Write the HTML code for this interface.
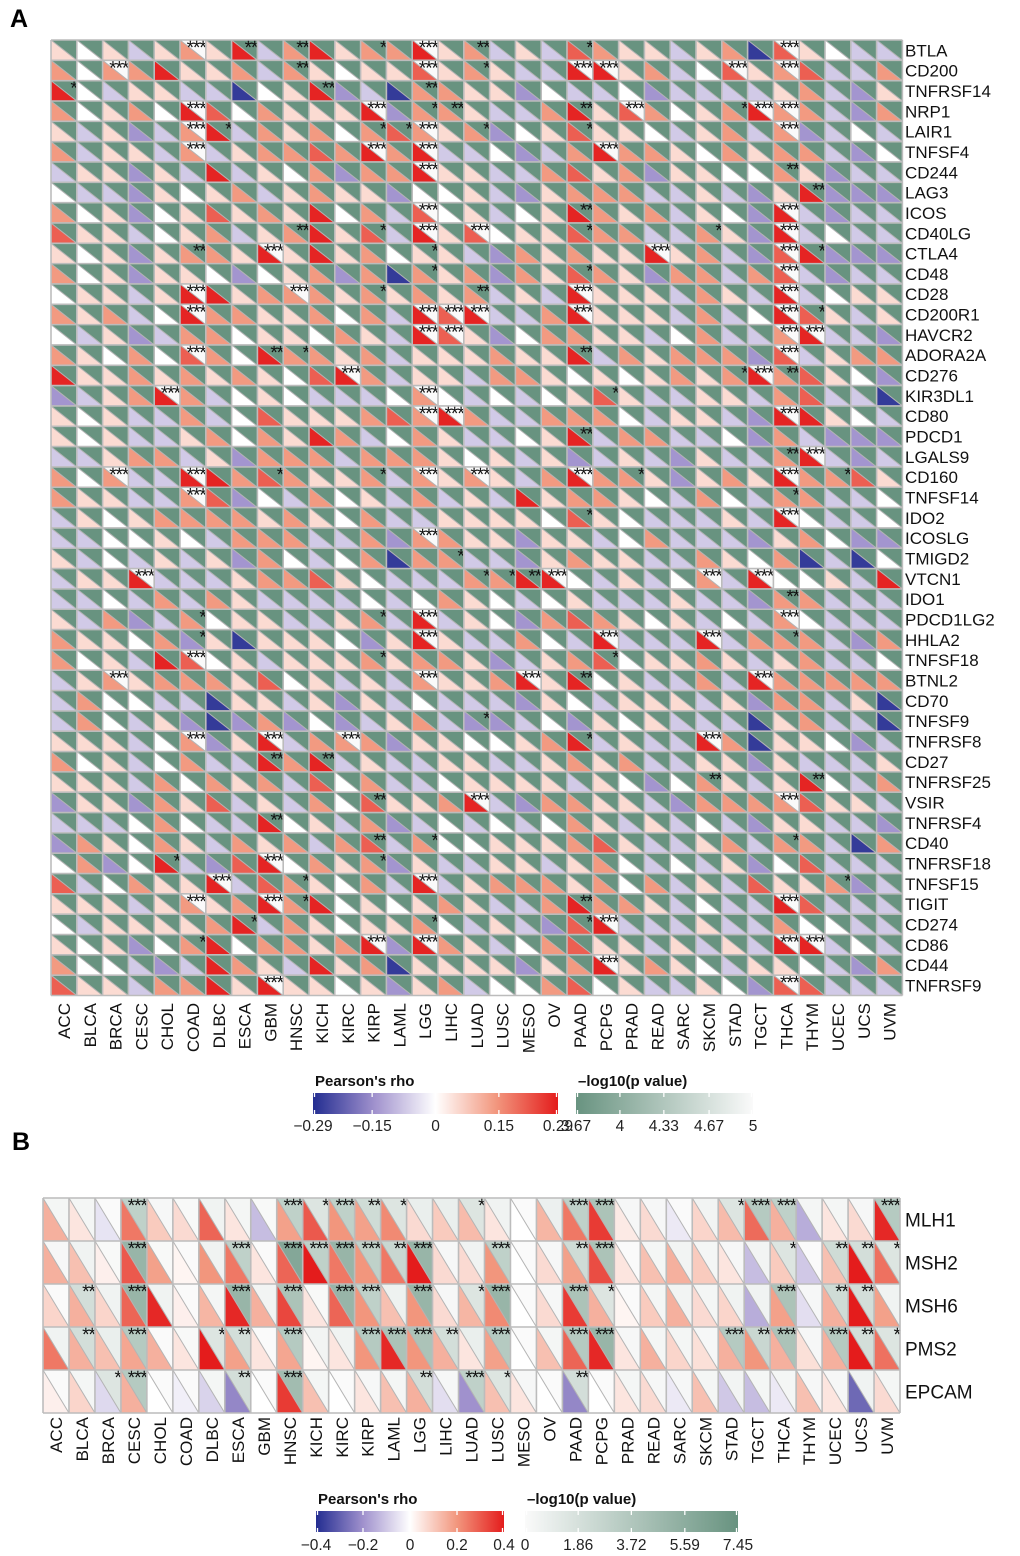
<!DOCTYPE html>
<html>
<head>
<meta charset="utf-8">
<style>
  html,body{margin:0;padding:0;background:#fff;}
  body{width:1020px;height:1556px;overflow:hidden;}
  svg{display:block;font-family:"Liberation Sans",Arial,sans-serif;}
</style>
</head>
<body>
<svg id="chart" width="1020" height="1556" viewBox="0 0 1020 1556" xmlns="http://www.w3.org/2000/svg">
  <defs>
    <linearGradient id="rhoGrad" x1="0" x2="1" y1="0" y2="0">
      <stop offset="0" stop-color="rgb(35,45,145)"/>
      <stop offset="0.25" stop-color="rgb(160,145,205)"/>
      <stop offset="0.5" stop-color="rgb(255,255,255)"/>
      <stop offset="0.75" stop-color="rgb(242,150,125)"/>
      <stop offset="1" stop-color="rgb(228,28,28)"/>
    </linearGradient>
    <linearGradient id="pGradA" x1="0" x2="1" y1="0" y2="0">
      <stop offset="0" stop-color="rgb(104,147,128)"/>
      <stop offset="1" stop-color="rgb(250,250,250)"/>
    </linearGradient>
    <linearGradient id="pGradB" x1="0" x2="1" y1="0" y2="0">
      <stop offset="0" stop-color="rgb(250,250,250)"/>
      <stop offset="1" stop-color="rgb(104,147,128)"/>
    </linearGradient>
  </defs>
  <text x="10" y="27" font-size="25" font-weight="bold">A</text>
  <text x="12" y="1150" font-size="25" font-weight="bold">B</text>
  <g id="panelA"></g>
  <g id="panelB"></g>
  <g id="legends"></g>
</svg>
<script>
// ---------- data ----------
const cancers = ["ACC","BLCA","BRCA","CESC","CHOL","COAD","DLBC","ESCA","GBM","HNSC","KICH","KIRC","KIRP","LAML","LGG","LIHC","LUAD","LUSC","MESO","OV","PAAD","PCPG","PRAD","READ","SARC","SKCM","STAD","TGCT","THCA","THYM","UCEC","UCS","UVM"];
const genesA = ["BTLA","CD200","TNFRSF14","NRP1","LAIR1","TNFSF4","CD244","LAG3","ICOS","CD40LG","CTLA4","CD48","CD28","CD200R1","HAVCR2","ADORA2A","CD276","KIR3DL1","CD80","PDCD1","LGALS9","CD160","TNFSF14","IDO2","ICOSLG","TMIGD2","VTCN1","IDO1","PDCD1LG2","HHLA2","TNFSF18","BTNL2","CD70","TNFSF9","TNFRSF8","CD27","TNFRSF25","VSIR","TNFRSF4","CD40","TNFRSF18","TNFSF15","TIGIT","CD274","CD86","CD44","TNFRSF9"];
const rhoLevelA = {B:-0.27, v:-0.14, l:-0.07, w:0, p:0.05, o:0.14, r:0.21, R:0.28};
const rhoCodesA = [
"pwplp opRlo RpooR polpl roppl poBrp wll",
"owooR ppolo pwppr popll RRpol wrpor llo",
"Rwlpp llBwp RvlBo oppvw llwvl lllpo lvp",
"owpow Rrwop ppRvo opllo Rprow poRoo lvo",
"plpvl oRlop oworo povwp rppwl polov lwl",
"olppl olpoo roRoR llwvl oRoop wopoo lvw",
"lppvp lRlpw ovooR ppllo rpovp pwwop vll",
"wllvp wpolp oppvw wplvp oooll plvpR vvv",
"owpvw prpop Rwolr wplwp Ropol pwvRl vll",
"rpplw polpo RprlR prwpp rooll opvRl wll",
"pwpvp oopRp Rpowp plvop oppRp olvrR vvv",
"owpvp pwvwp ovoBo povop ropvo olorl vll",
"wpplp RRpoo opopo polpl Rpppl oplRl wpp",
"opolw Roopp owolR rRllo Rpppl olwRr plp",
"wlpvl oowpp woplR rpvwo opplw olloR llv",
"opwow rowRo opolp ppopp Rlopo oovrl poo",
"Rppop opopw rRolp ploop wpwpo poRor pwv",
"vlpoR olwpw lllwo wlwlw prpll pplor llB",
"pwpll olwrp pporo Rollo oowlp plvRR pwl",
"pwpll powop Rolwo pllwp Rlool lwvol vvv",
"llpoo lpvoo olooo pwplp vlplv plloR lvl",
"owoll RRoro ppolo poplo Roopv popRo orp",
"oppll orvwl owplo lplRp oopwl owloo llw",
"lpwpo ooopo pwoll ppppw rpwll lplRw llw",
"llwwp wlooo llovo oppvp plwol llvpo wvv",
"plwlp lpvow lwoBo ollvp oppll opwoB lBw",
"lppRl llpoo rpwll looRR wlplw olRww plR",
"llwlo lopll llwlw opwlw plllp llvoo lll",
"plovl owppl lpolR lpwvo ropwp lwlow lll",
"oppwo vpBpp pwvpR pllow lRlll Rlooo lvo",
"owplR rwplp ppopo opvlp orwpp oplpo llw",
"lpopo ooprw plplo ppoRp Rwpll olRoo ooo",
"lowwl lBppl pvplw lllvp wlppp lpvoo lpB",
"lowlp vBvov wvlpo lvvlw vpwpl llBpo llB",
"ppplw ovpRl ooovp pwwpo Rlpll RoBpp wvl",
"owplw ollRo Rlpll ppllp opoll ppvpl llp",
"ppplo wopol rwoll wpppp lpwvw oplpR wlo",
"vppvo prlpl owrpp oRlvo opplv oooor ppl",
"lllwo wllRw plovl wlwlw oplpl wlvpp llv",
"vopwo plopo lorlo wwppp orpll poloo lBo",
"wovwR lvrRw opovp llppl powlw lpvwr lll",
"rlwop pRlro pwolR lpooo powol plrpp ovl",
"ppplp opoRo Rwpwp opllo Roopl wllRr lll",
"wlppp poRlo pwppo wlplv rRlll pllow wll",
"pwpvw oRwoo poRvR oplwo rpplp lplRR lwl",
"owwlv lRopl RpoBp pppvp oRpop wlppw lvo",
"rpplo oRpRp pwpvp olwwo rwpll pwvrr lll"
];
const starsA = [
"00000 30202 00103 02000 10000 00030 000",
"00300 00002 00003 01000 33000 03030 000",
"10000 00000 20002 00000 00000 00000 000",
"00000 30000 00301 20000 20300 01330 000",
"00000 31000 00113 01000 10000 00030 000",
"00000 30000 00303 00000 03000 00000 000",
"00000 00000 00003 00000 00000 00020 000",
"00000 00000 00000 00000 00000 00002 000",
"00000 00000 00003 00000 20000 00030 000",
"00000 00002 00103 03000 10000 10030 000",
"00000 20030 00001 00000 00030 00031 000",
"00000 00000 00001 00000 10000 00030 000",
"00000 30003 00100 02000 30000 00030 000",
"00000 30000 00003 33000 30000 00031 000",
"00000 00000 00003 30000 00000 00033 000",
"00000 30021 00000 00000 20000 00030 000",
"00000 00000 03000 00000 00000 01320 000",
"00003 00000 00003 00000 01000 00000 000",
"00000 00000 00003 30000 00000 00030 000",
"00000 00000 00000 00000 20000 00000 000",
"00000 00000 00000 00000 00000 00023 000",
"00300 30010 00103 03000 30100 00030 100",
"00000 30000 00000 00000 00000 00010 000",
"00000 00000 00000 00000 10000 00030 000",
"00000 00000 00003 00000 00000 00000 000",
"00000 00000 00000 10000 00000 00000 000",
"00030 00000 00000 01123 00000 30300 000",
"00000 00000 00000 00000 00000 00020 000",
"00000 10000 00103 00000 00000 00030 000",
"00000 10000 00003 00000 03000 30010 000",
"00000 30000 00100 00000 01000 00000 000",
"00300 00000 00003 00030 20000 00300 000",
"00000 00000 00000 00000 00000 00000 000",
"00000 00000 00000 01000 00000 00000 000",
"00000 30030 03000 00000 10000 30000 000",
"00000 00020 20000 00000 00000 00000 000",
"00000 00000 00000 00000 00000 20002 000",
"00000 00000 00200 03000 00000 00030 000",
"00000 00020 00000 00000 00000 00000 000",
"00000 00000 00201 00000 00000 00010 000",
"00001 00030 00100 00000 00000 00000 000",
"00000 03001 00003 00000 00000 00000 100",
"00000 30031 00000 00000 20000 00030 000",
"00000 00100 00001 00000 13000 00000 000",
"00000 10000 00303 00000 00000 00033 000",
"00000 00000 00000 00000 03000 00000 000",
"00000 00030 00000 00000 00000 00030 000"
];
const pLevelA = {g:3.67, w:5};
const pCodesA = [
"ggggg wgggg ggggw ggggg ggggg gggwg ggg",
"ggwgg ggggg ggggw ggggg wwggg gwgwg ggg",
"ggggg ggggg ggggg ggggg ggggg ggggg ggg",
"ggggg wgggg ggwgg ggggg ggwgg ggwwg ggg",
"ggggg wgggg ggggw ggggg ggggg gggwg ggg",
"ggggg wgggg ggwgw ggggg gwggg ggggg ggg",
"ggggg ggggg ggggw ggggg ggggg ggggg ggg",
"ggggg ggggg ggggg ggggg ggggg ggggg ggg",
"ggggg ggggg ggggw ggggg ggggg gggwg ggg",
"ggggg ggggg ggggw gwggg ggggg gggwg ggg",
"ggggg gggwg ggggg ggggg gggwg gggwg ggg",
"ggggg ggggg ggggg ggggg ggggg gggwg ggg",
"ggggg wgggw ggggg ggggg wgggg gggwg ggg",
"ggggg wgggg ggggw wwggg wgggg gggwg ggg",
"ggggg ggggg ggggw wgggg ggggg gggww ggg",
"ggggg wgggg ggggg ggggg ggggg gggwg ggg",
"ggggg ggggg gwggg ggggg ggggg ggwgg ggg",
"ggggw ggggg ggggw ggggg ggggg ggggg ggg",
"ggggg ggggg ggggw wgggg ggggg gggwg ggg",
"ggggg ggggg ggggg ggggg ggggg ggggg ggg",
"ggggg ggggg ggggg ggggg ggggg ggggw ggg",
"ggwgg wgggg ggggw gwggg wgggg gggwg ggg",
"ggggg wgggg ggggg ggggg ggggg ggggg ggg",
"ggggg ggggg ggggg ggggg ggggg gggwg ggg",
"ggggg ggggg ggggw ggggg ggggg ggggg ggg",
"ggggg ggggg ggggg ggggg ggggg ggggg ggg",
"gggwg ggggg ggggg ggggw ggggg wgwgg ggg",
"ggggg ggggg ggggg ggggg ggggg ggggg ggg",
"ggggg ggggg ggggw ggggg ggggg gggwg ggg",
"ggggg ggggg ggggw ggggg gwggg wgggg ggg",
"ggggg wgggg ggggg ggggg ggggg ggggg ggg",
"ggwgg ggggg ggggw gggwg ggggg ggwgg ggg",
"ggggg ggggg ggggg ggggg ggggg ggggg ggg",
"ggggg ggggg ggggg ggggg ggggg ggggg ggg",
"ggggg wggwg gwggg ggggg ggggg wgggg ggg",
"ggggg ggggg ggggg ggggg ggggg ggggg ggg",
"ggggg ggggg ggggg ggggg ggggg ggggg ggg",
"ggggg ggggg ggggg gwggg ggggg gggwg ggg",
"ggggg ggggg ggggg ggggg ggggg ggggg ggg",
"ggggg ggggg ggggg ggggg ggggg ggggg ggg",
"ggggg gggwg ggggg ggggg ggggg ggggg ggg",
"ggggg gwggg ggggw ggggg ggggg ggggg ggg",
"ggggg wggwg ggggg ggggg ggggg gggwg ggg",
"ggggg ggggg ggggg ggggg gwggg ggggg ggg",
"ggggg ggggg ggwgw ggggg ggggg gggww ggg",
"ggggg ggggg ggggg ggggg gwggg ggggg ggg",
"ggggg gggwg ggggg ggggg ggggg gggwg ggg"
];

const genesB = ["MLH1","MSH2","MSH6","PMS2","EPCAM"];
const rhoB_MLH1 = [0.15,0.05,-0.05,0.25,0.1,0.07,0.28,0.05,-0.12,0.18,0.3,0.2,0.18,0.22,0.07,0.1,0.13,0.05,0,0.14,0.25,0.35,0.04,0.07,-0.04,0.08,0.13,0.27,0.15,-0.15,0.05,0.07,0.38];
const rhoB_MSH2 = [0.15,0.12,0.03,0.3,0.18,0.02,0.2,0.25,0.05,0.28,0.4,0.25,0.2,0.25,0.4,0.07,0.07,0.2,0,0.07,0.18,0.32,0.05,0.12,0.15,0.1,0.05,-0.12,0.1,-0.1,0.12,0.42,0.26];
const rhoB_MSH6 = [0.08,0.15,0.08,0.28,0.38,0.03,0.14,0.38,0.15,0.33,0.05,0.28,0.2,0.12,0.2,0.07,0.14,0.22,0,0.07,0.35,0.15,0.02,0.1,0.15,0.07,0.08,-0.15,0.18,-0.06,0.15,0.42,0.18];
const rhoB_PMS2 = [0.25,0.15,0.12,0.17,0.15,0.05,0.4,0.18,0.05,0.17,0.02,0.05,0.2,0.38,0.2,0.15,0.05,0.18,0,0.12,0.28,0.38,0.05,0.15,0.08,0.06,0.15,0.2,0.15,0.06,0.15,0.42,0.26];
const rhoB_EPCAM = [0.03,0.08,-0.07,0.15,0,-0.03,-0.08,-0.22,0,0.35,0.12,0,0.05,0.12,0.15,-0.06,-0.2,0.12,0.05,0,-0.22,0,0.05,0.07,-0.04,0.12,-0.1,-0.12,-0.04,0.12,0.05,-0.28,0.07];
const pB_MLH1 = [0.3,0.3,0,3,0.2,0.1,0.5,0.3,0.1,3,1.5,3,2.2,1.5,0.8,0.8,1.5,0.5,0,0.7,3,4,0.2,0.2,0,0.4,1.5,3.5,3,0.3,0.3,0.2,3.5];
const pB_MSH2 = [0.2,0.5,0.1,5,0.1,0,0.5,3,0,6,3,5,3,2.5,5,0.2,0.5,3,0,0.2,2.2,4,0,0.3,0.4,0.3,0.2,0.4,1.5,0,2.2,2,1.5];
const pB_MSH6 = [0,2,0.5,5,0.5,0,0.3,5,0.4,4,0.1,5,3,0.6,5,0.2,1.5,5,0,0.2,4,1.5,0,0.3,0.4,0.3,0.5,0.5,4,0.2,2.2,2,0.5];
const pB_PMS2 = [0.5,2,0.8,3.5,0,0.1,1.5,2,0,3.5,0.4,0.5,3.5,4,4,2,0.8,3.5,0,0.3,3.5,5,0.2,0.3,0.3,0.2,3.5,2.5,4,0.2,3.5,2,1.5];
const pB_EPCAM = [0,0.3,1.5,3.5,0,0,0.3,2,0,4.5,0.3,0,0.2,0.3,2,0.2,3,1.5,0.2,0,2,0,0.3,0.2,0.2,0.3,0.4,0.3,0.3,0.2,0.2,0.5,0.3];
const starsB_MLH1 = [0,0,0,3,0,0,0,0,0,3,1,3,2,1,0,0,1,0,0,0,3,3,0,0,0,0,1,3,3,0,0,0,3];
const starsB_MSH2 = [0,0,0,3,0,0,0,3,0,3,3,3,3,2,3,0,0,3,0,0,2,3,0,0,0,0,0,0,1,0,2,2,1];
const starsB_MSH6 = [0,2,0,3,0,0,0,3,0,3,0,3,3,0,3,0,1,3,0,0,3,1,0,0,0,0,0,0,3,0,2,2,0];
const starsB_PMS2 = [0,2,0,3,0,0,1,2,0,3,0,0,3,3,3,2,0,3,0,0,3,3,0,0,0,0,3,2,3,0,3,2,1];
const starsB_EPCAM = [0,0,1,3,0,0,0,2,0,3,0,0,0,0,2,0,3,1,0,0,2,0,0,0,0,0,0,0,0,0,0,0,0];
const rhoB = [rhoB_MLH1,rhoB_MSH2,rhoB_MSH6,rhoB_PMS2,rhoB_EPCAM];
const pB = [pB_MLH1,pB_MSH2,pB_MSH6,pB_PMS2,pB_EPCAM];
const starsB = [starsB_MLH1,starsB_MSH2,starsB_MSH6,starsB_PMS2,starsB_EPCAM];

const rhoTicksA = [-0.29,-0.15,0,0.15,0.29];
const rhoTickLabelsA = ["\u22120.29","\u22120.15","0","0.15","0.29"];
const pTicksA = [3.67,4,4.33,4.67,5];
const pTickLabelsA = ["3.67","4","4.33","4.67","5"];
const rhoTicksB = [-0.4,-0.2,0,0.2,0.4];
const rhoTickLabelsB = ["\u22120.4","\u22120.2","0","0.2","0.4"];
const pTicksB = [0,1.86,3.72,5.59,7.45];
const pTickLabelsB = ["0","1.86","3.72","5.59","7.45"];

// ---------- helpers ----------
const NS = "http://www.w3.org/2000/svg";
function mk(tag, attrs, parent){
  const e = document.createElementNS(NS, tag);
  for (const k in attrs) e.setAttribute(k, attrs[k]);
  parent.appendChild(e);
  return e;
}
function clean(s){ return s.replace(/ /g,""); }
function lerp(a,b,t){ return [0,1,2].map(i=>Math.round(a[i]+(b[i]-a[i])*t)); }
const RS = [[35,45,145],[160,145,205],[255,255,255],[242,150,125],[228,28,28]];
function rhoColor(v, max){
  let t = Math.max(-1, Math.min(1, v/max));
  let u = (t+1)*2; let i = Math.min(3, Math.floor(u));
  const c = lerp(RS[i], RS[i+1], u-i);
  return "rgb("+c.join(",")+")";
}
const GREEN=[104,147,128], WHITE=[250,250,250];
function pColorA(v){ let t=(v-3.67)/(5-3.67); t=Math.max(0,Math.min(1,t)); return "rgb("+lerp(GREEN,WHITE,t).join(",")+")"; }
function pColorB(v){ let t=v/7.45; t=Math.max(0,Math.min(1,t)); return "rgb("+lerp(WHITE,GREEN,t).join(",")+")"; }

function drawHeatmap(g, cfg){
  const {x0,y0,cw,ch,rows,getRho,getP,getStars,rhoMax,pColor,rowLabels,labelSize,starSize,axisY,axisSize,prefix} = cfg;
  const grid = cfg.grid;
  for (let r=0;r<rows;r++){
    for (let c=0;c<cancers.length;c++){
      const x = x0 + c*cw, y = y0 + r*ch;
      const rho = getRho(r,c), p = getP(r,c), st = getStars(r,c);
      const cell = mk("g", {}, g);
      
      
      const lo = mk("polygon", {points:`${x},${y} ${x},${y+ch} ${x+cw},${y+ch}`, fill:rhoColor(rho,rhoMax)}, cell);
      
      
      const up = mk("polygon", {points:`${x},${y} ${x+cw},${y} ${x+cw},${y+ch}`, fill:pColor(p)}, cell);
      
      
      mk("line", {x1:x,y1:y,x2:x+cw,y2:y+ch,stroke:"#b4b4b4","stroke-width":1}, cell);
      if (st>0){
        const t = mk("text", {x:x+cw, y:y+starSize*0.74, "font-size":starSize, "text-anchor":"end", fill:"#111", "letter-spacing":"-1"}, cell);
        t.textContent = "*".repeat(st);
        
        
      }
    }
  }
  for (let c=0;c<=cancers.length;c++){
    mk("line",{x1:x0+c*cw,y1:y0,x2:x0+c*cw,y2:y0+rows*ch,stroke:"#bcbcbc","stroke-width":grid},g);
  }
  for (let r=0;r<=rows;r++){
    mk("line",{x1:x0,y1:y0+r*ch,x2:x0+cancers.length*cw,y2:y0+r*ch,stroke:"#bcbcbc","stroke-width":grid},g);
  }
  for (let r=0;r<rows;r++){
    const t = mk("text",{x:905,y:y0+r*ch+ch/2+labelSize*0.36,"font-size":labelSize,fill:"#111"},g);
    t.textContent = rowLabels[r];
    
    
  }
  for (let c=0;c<cancers.length;c++){
    const cx = x0 + c*cw + cw/2 + axisSize*0.36;
    const t = mk("text",{x:cx,y:axisY,"font-size":axisSize,"text-anchor":"end",fill:"#111",transform:`rotate(-90 ${cx} ${axisY})`},g);
    t.textContent = cancers[c];
    
    
  }
}

// ---------- panel A ----------
const gA = document.getElementById("panelA");
const rhoA = rhoCodesA.map(s=>clean(s).split("").map(ch=>rhoLevelA[ch]));
const pA = pCodesA.map(s=>clean(s).split("").map(ch=>pLevelA[ch]));
const stA = starsA.map(s=>clean(s).split("").map(Number));
drawHeatmap(gA, {x0:51,y0:40,cw:25.8,ch:20.33,rows:genesA.length,
  getRho:(r,c)=>rhoA[r][c], getP:(r,c)=>pA[r][c], getStars:(r,c)=>stA[r][c],
  rhoMax:0.29, pColor:pColorA, rowLabels:genesA, labelSize:17, starSize:19,
  axisY:1003, axisSize:17, prefix:"a", grid:1.6});

// ---------- panel B ----------
const gB = document.getElementById("panelB");
drawHeatmap(gB, {x0:43,y0:1198,cw:25.97,ch:43,rows:genesB.length,
  getRho:(r,c)=>rhoB[r][c], getP:(r,c)=>pB[r][c], getStars:(r,c)=>starsB[r][c],
  rhoMax:0.4, pColor:pColorB, rowLabels:genesB, labelSize:19, starSize:19,
  axisY:1417, axisSize:17, prefix:"b", grid:1.6});

// ---------- legends ----------
const gL = document.getElementById("legends");
function legend(cfg){
  const {x,y,w,h,title,grad,ticks,labels,min,max,labelY,name} = cfg;
  const g = mk("g",{},gL);
  
  
  const tt = mk("text",{x:x+2,y:y-7,"font-size":15,"font-weight":"bold",fill:"#111"},g);
  tt.textContent = title;
  
  
  mk("rect",{x:x,y:y,width:w,height:h,fill:`url(#${grad})`},g);
  const scale = v => x + (v-min)/(max-min)*w;
  ticks.forEach((v,i)=>{
    const tx = Math.min(x+w-1.5, Math.max(x+1.5, scale(v)));
    mk("line",{x1:tx,y1:y,x2:tx,y2:y+4,stroke:"#fff","stroke-width":1.3},g);
    mk("line",{x1:tx,y1:y+h-4,x2:tx,y2:y+h,stroke:"#fff","stroke-width":1.3},g);
    const t = mk("text",{x:scale(v),y:labelY,"font-size":15.5,"text-anchor":"middle",fill:"#222"},g);
    t.textContent = labels[i];
    
    
  });
}
legend({x:313,y:1093,w:245,h:21,title:"Pearson's rho",grad:"rhoGrad",ticks:rhoTicksA,labels:rhoTickLabelsA,min:-0.29,max:0.29,labelY:1131,name:"legend-a-rho"});
legend({x:576,y:1093,w:177,h:21,title:"\u2013log10(p value)",grad:"pGradA",ticks:pTicksA,labels:pTickLabelsA,min:3.67,max:5,labelY:1131,name:"legend-a-pvalue"});
legend({x:316,y:1511,w:188,h:21,title:"Pearson's rho",grad:"rhoGrad",ticks:rhoTicksB,labels:rhoTickLabelsB,min:-0.4,max:0.4,labelY:1550,name:"legend-b-rho"});
legend({x:525,y:1511,w:213,h:21,title:"\u2013log10(p value)",grad:"pGradB",ticks:pTicksB,labels:pTickLabelsB,min:0,max:7.45,labelY:1550,name:"legend-b-pvalue"});
</script>
</body>
</html>
